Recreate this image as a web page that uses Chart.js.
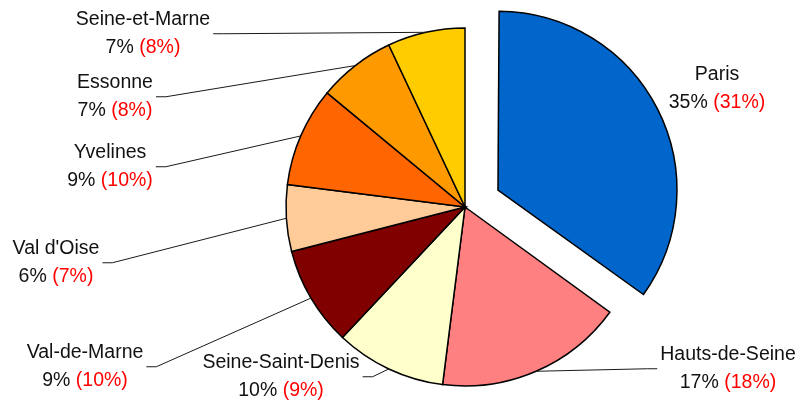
<!DOCTYPE html>
<html>
<head>
<meta charset="utf-8">
<script src="https://cdn.jsdelivr.net/npm/chart.js@4/dist/chart.umd.min.js"></script>
<style>
  html, body { margin: 0; padding: 0; background: #ffffff; overflow: hidden; }
  #wrap { width: 804px; height: 401px; position: relative; }
</style>
</head>
<body>
<div id="wrap"><canvas id="pie" width="804" height="401"></canvas></div>
<script>
// Départements, clockwise from 12 o'clock
const departements = ['Paris', 'Hauts-de-Seine', 'Seine-Saint-Denis', 'Val-de-Marne',
                      "Val d'Oise", 'Yvelines', 'Essonne', 'Seine-et-Marne'];
// Share of the total (%)
const shares = [35, 17, 10, 9, 6, 9, 7, 7];
// Comparison share shown in red (%)
const comparisonShares = [31, 18, 9, 10, 7, 10, 8, 8];

const sliceColors = ['#0066CC', '#FF8080', '#FFFFCC', '#800000',
                     '#FFCC99', '#FF6600', '#FF9900', '#FFCC00'];

// Pulled-out distance of each slice (px); Chart.js translates arcs by offset / 4
const explode = [37, 0, 0, 0, 0, 0, 0, 0];

// Label block placement relative to the pie centre: [dx, dy of first line, side, leader]
const labelLayout = [
  [252, -132, 'right', false],
  [263, 148, 'right', true],
  [-184, 156, 'left', true],
  [-380, 146, 'left', true],
  [-409, 42, 'left', true],
  [-355, -54, 'left', true],
  [-350, -124, 'left', true],
  [-322, -187, 'left', true]
];

const FONT = '19.5px "Liberation Sans", Arial, sans-serif';
const LINE_GAP = 27.5;

// Keep exploded slices at the same radius as the others
const keepRadius = {
  id: 'keepRadius',
  afterDatasetUpdate(chart, args) {
    const meta = args.meta;
    meta.data.forEach((arc, i) => {
      const off = explode[i];
      if (!off) return;
      const circ = arc.endAngle - arc.startAngle;
      const fix = 1 - Math.sin(Math.min(Math.PI, circ));
      arc.outerRadius -= off * fix;
    });
  }
};

const labelPlugin = {
  id: 'pieLabels',
  afterDatasetsDraw(chart) {
    const ctx = chart.ctx;
    const meta = chart.getDatasetMeta(0);
    const arcs = meta.data;
    ctx.save();
    ctx.font = FONT;
    ctx.textBaseline = 'middle';
    arcs.forEach((arc, i) => {
      const cx = arc.x, cy = arc.y;
      const [dx, dy, side, leader] = labelLayout[i];
      const lx = cx + dx, ly = cy + dy;
      const name = departements[i];
      const part1 = shares[i] + '% ';
      const part2 = '(' + comparisonShares[i] + '%)';
      const w1 = ctx.measureText(part1).width;
      const w2 = ctx.measureText(part2).width;
      const wName = ctx.measureText(name).width;
      const blockW = Math.max(wName, w1 + w2);

      // name line
      ctx.fillStyle = '#111111';
      ctx.textAlign = 'left';
      ctx.fillText(name, lx - wName / 2, ly);
      // value line: black share, red comparison
      const sx = lx - (w1 + w2) / 2;
      ctx.fillText(part1, sx, ly + LINE_GAP);
      ctx.fillStyle = '#ff0000';
      ctx.fillText(part2, sx + w1, ly + LINE_GAP);

      if (!leader) return;
      // leader line from the middle of the slice's outer edge
      const mid = (arc.startAngle + arc.endAngle) / 2;
      const r = arc.outerRadius;
      const ax = cx + Math.cos(mid) * r;
      const ay = cy + Math.sin(mid) * r;
      const my = ly + LINE_GAP / 2;
      let ex, kx;
      if (side === 'left') {
        ex = lx + blockW / 2 + 3;
        kx = ex + 10;
      } else {
        ex = lx - blockW / 2 - 3;
        kx = ex - 10;
      }
      ctx.strokeStyle = '#1a1a1a';
      ctx.lineWidth = 1;
      ctx.beginPath();
      ctx.moveTo(ax, ay);
      ctx.lineTo(kx, my);
      ctx.lineTo(ex, my);
      ctx.stroke();
    });
    ctx.restore();
  }
};

new Chart(document.getElementById('pie'), {
  type: 'pie',
  data: {
    labels: departements,
    datasets: [{
      data: shares,
      backgroundColor: sliceColors,
      borderColor: '#000000',
      borderWidth: 1.5,
      borderJoinStyle: 'miter',
      offset: explode.map(v => v * 4)
    }]
  },
  options: {
    responsive: false,
    animation: false,
    radius: 179,
    layout: { padding: { left: 126, right: 0, top: 13, bottom: 0 } },
    plugins: {
      legend: { display: false },
      tooltip: { enabled: false }
    }
  },
  plugins: [keepRadius, labelPlugin]
});
</script>
</body>
</html>
